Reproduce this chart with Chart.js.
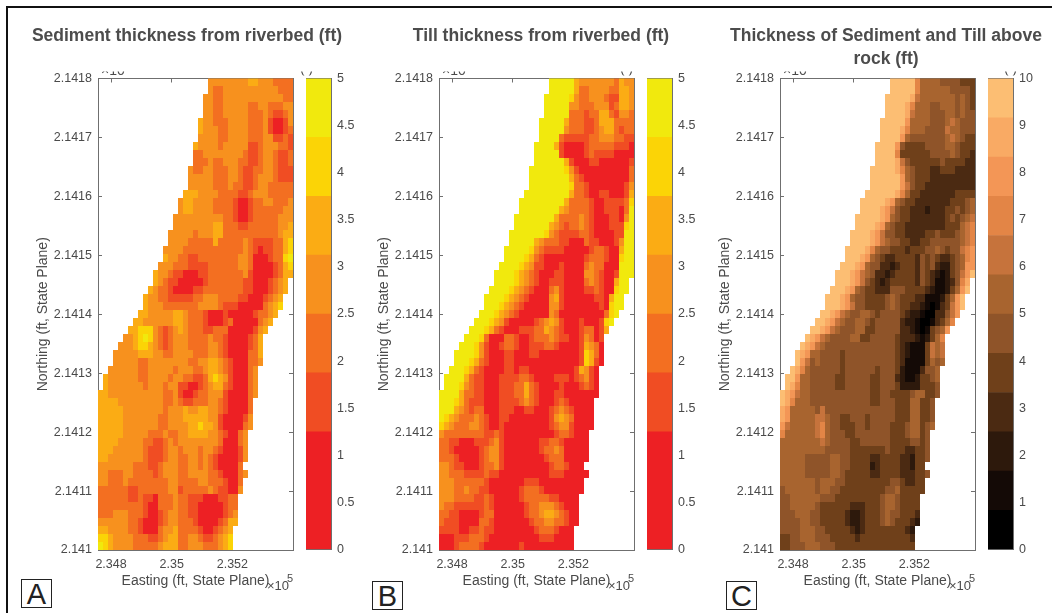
<!DOCTYPE html>
<html>
<head>
<meta charset="utf-8">
<title>Thickness maps</title>
<script src="https://cdn.jsdelivr.net/npm/chart.js@4"></script>
<style>
  body { margin: 0; background: #fff; width: 1052px; height: 613px; overflow: hidden; position: relative; font-family: "Liberation Sans", Arial, sans-serif; }
  canvas { position: absolute; filter: blur(0.45px); }
  .frame { position: absolute; background: #111; }
  .title { position: absolute; transform: translateX(-50%); text-align: center; white-space: nowrap; font-weight: bold; font-size: 17.5px; line-height: 23px; color: #4c4c4c; filter: blur(0.3px); }
  .tag { position: absolute; width: 29px; height: 27px; border: 1.5px solid #222; text-align: center; font-size: 29px; line-height: 28px; color: #222; }
</style>
</head>
<body>
<div class="frame" style="left:6px;top:6px;width:1046px;height:2px"></div>
<div class="frame" style="left:6px;top:6px;width:2px;height:607px"></div>
<div class="title" style="left:187px;top:24px">Sediment thickness from riverbed (ft)</div>
<div class="title" style="left:541px;top:24px">Till thickness from riverbed (ft)</div>
<div class="title" style="left:886px;top:24px">Thickness of Sediment and Till above<br>rock (ft)</div>
<div class="tag" style="left:21px;top:579px">A</div>
<div class="tag" style="left:372px;top:581px">B</div>
<div class="tag" style="left:726px;top:581px">C</div>

<script>
// grid of the surveyed reach, 39 columns by 59 rows, rows listed from north to south
const riverStart = [22,22,21,21,21,20,20,20,19,19,19,18,18,18,17,16,16,15,15,14,14,13,13,12,11,11,10,9,9,8,7,6,5,4,3,3,2,1,1,
  0,0,0,0,0,0,0,0,0,0,0,0,0,0,0,0,0,0,0,0];
const riverEnd = [39,39,39,39,39,39,39,39,39,39,39,39,39,39,39,39,39,39,39,39,39,39,39,39,39,38,38,37,37,36,35,34,33,33,33,33,32,32,32,
  32,31,31,31,31,30,30,30,30,29,30,29,29,28,28,28,28,27,27,27];

const eastingTicks = [2.348, 2.35, 2.352];
const northingTicks = [2.141, 2.1411, 2.1412, 2.1413, 2.1414, 2.1415, 2.1416, 2.1417, 2.1418];
const thicknessTicks = [0, 0.5, 1, 1.5, 2, 2.5, 3, 3.5, 4, 4.5, 5];
const totalTicks = [0, 1, 2, 3, 4, 5, 6, 7, 8, 9, 10];

const thicknessEdges = [0, 1.25, 1.875, 2.5, 3.125, 3.75, 4.375, 5];
const thicknessColours = ['#ed2024', '#f04d23', '#f36f21', '#f7911e', '#fbac14', '#fbd406', '#f1e90d'];
const totalEdges = [0, 0.833, 1.667, 2.5, 3.333, 4.167, 5, 5.833, 6.667, 7.5, 8.333, 9.167, 10];
const totalColours = ['#000000', '#140a06', '#2d190c', '#4b2a12', '#6f401a', '#8f5429', '#a8642f', '#c6733c', '#e38546', '#f39656', '#f9aa64', '#fcbe73'];

// level codes: 1-7 index thicknessColours, 0-b index totalColours
const sedimentRows = [
  '44444444 55 444 3333',
  '4 33 44444444444 333',
  '44 33 444444444444 33',
  '44 33 44444 33 44 333 44',
  '44 33 44444 333 4 3 22 3 4',
  '5 44 333 4444 333 4 2 11 2 4',
  '5 44 4 33 4444 333 4 2 11 2 3',
  '4 444 33 4444 333 44 22 3 2',
  '5 4444 3 44444 22 3 444 33 2',
  '33 44444444 3 22 3 44 3 22 3',
  '333 4 33 444 33 22 3 44 3 22 3',
  '4 33 44 33 3 44 3 22 33 44 3 222',
  '444 44 333 44 3 22 3 444 3 222',
  '4444 4 333 4 33 22 3 44 33 333',
  '5 55 44 44 33 33 22 3 444 33 333',
  '455 4444 3333 2112 33 44 3334',
  '455 4444 3333 2112 33 33 3344',
  '4 444 4444 44 33 2112 33 3334 44',
  '4 444 4444 55 33 3223 33 3334 45',
  '4 4 444 3444 55 33 3333 33 3334 55',
  '4 4 443 3333 53 33 3343 22 2233 56',
  '4 4 4 433 3333 33 33 3343 21 2233 56',
  '5 4 4 332 2333 33 33 3443 11 1233 67',
  '4 4 4 3 332 2223 33 33 3443 11 1123 56',
  '5 4 4 3 2 211 1223 33 33 3342 11 1123 55',
  '5 4 3 2 2 111 1123 33 33 3322 11 1234 5',
  '5 4 3 3 2 1 111 2233 33 33 3322 11 1234 5',
  '5 4 4 3 3 2 2 222 3344 43 33 3221 11 234 5',
  '5 4 4 4 3 3 3 333 3444 43 22 2111 11 345 6',
  '5544 4445 5433 3211 1211 1112 3345',
  '5544 4444 5543 3321 1123 1111 1345',
  '5566 6432 3454 3332 2333 1111 1245',
  '4456 7643 2344 4333 3433 2111 1235',
  '4445 6654 3234 4433 3344 3211 1123 5',
  '4444 4555 4433 4444 3334 4321 1113 35',
  '4444 4334 4444 4443 3445 5432 1113 34',
  '4444 4433 4444 4344 4334 5543 2111 34',
  '5444 4443 3444 4344 3322 3565 4211 134',
  '5444 4444 3444 3442 2112 3455 3211 134',
  '5544 4444 4444 4334 2112 3344 4211 1134',
  '5555 4444 4444 4334 3223 3344 3211 113',
  '5555 5444 4444 4344 4544 5544 3211 113',
  '5555 5444 4444 3344 4555 5544 2111 124',
  '5555 5444 4444 3344 4455 6554 2111 134',
  '5555 5444 4433 3433 4455 5544 3211 34',
  '5555 4444 4332 2343 4444 4444 3111 34',
  '5554 4444 4322 2344 3444 3443 2111 24',
  '5544 4444 4322 2344 3344 3432 1111 24',
  '4444 4443 3322 3444 3344 3432 1111 3',
  '4433 3443 3332 3444 3344 4433 2111 34',
  '4433 3433 3333 3344 3333 4433 3211 3',
  '3333 3322 3333 3344 2333 3343 2211 4',
  '3333 3322 3221 3334 3322 2111 2233',
  '3333 3333 3211 3334 3322 1111 1233',
  '3334 4433 3211 2344 3322 1111 1234',
  '4444 4433 2111 2344 3332 1111 2355',
  '5544 4433 2111 3445 3333 2112 345',
  '6654 4443 3322 3455 3344 3223 456',
  '7654 4443 3333 4555 3344 4333 456'
];

const tillRows = [
  '77777 5 4444 4443 544',
  '77777 5 3344 4433 554',
  '77777 6 4 3344 4322 554',
  '77777 4 4 3334 4423 554',
  '77777 3 3 3233 5532 443',
  '77777 5 3 3 3223 5553 333',
  '77777 4 3 3 3223 4553 233',
  '7777 3 222 2233 4443 322',
  '7777 5 2111 1233 3332 221',
  '77777 2111 1232 2221 111',
  '777777 5 21 1122 1111 112',
  '7777777 6 42 1111 1111 113',
  '77777777 5 3 2111 1111 113',
  '77777777 6 3 3211 1111 124',
  '777777777 5 3 3211 2211 125',
  '777777777 5 33 3321 1222 236',
  '77777777 5 433 3321 1222 137',
  '77777777 5 3333 4321 1122 147',
  '7777777 54 3233 4321 1122 267',
  '7777777 64 3 2222 3321 1112 277',
  '77777 54 333 2211 1322 1112 477',
  '77777 64 3222 2111 1123 3211 577',
  '7777 65 32111 1111 1233 3211 677',
  '7777 654 22111 2111 1343 3111 777',
  '7777 6543 21112 2111 1443 2112 777',
  '7777 6543 21122 2111 1343 2115 77',
  '7777 65432 11134 2111 1223 2116 77',
  '7777 654321 11145 2111 1112 2157 7',
  '777 6543211 11144 2111 1111 2167 7',
  '7776 5432 1111 1143 1111 1111 1367',
  '7776 5421 1111 2345 4211 1211 1267',
  '7776 5321 1122 2335 4321 1123 3125',
  '7776 3111 3321 1233 3432 2112 4312',
  '7776 4211 2332 1122 2332 1111 2543 1',
  '7777 6421 1122 1112 2111 1111 1265 31',
  '7776 5321 1122 1111 1111 1111 1265 21',
  '7776 5321 1112 2122 1111 1111 1254 21',
  '7777 5322 1112 2223 3211 1122 2123 421',
  '7776 4322 1112 2233 5321 1112 1112 321',
  '7777 5332 2111 2223 3532 1112 2111 1111',
  '7776 5322 2111 2222 3432 1112 3211 111',
  '7775 4323 3111 2221 1221 1123 4321 111',
  '7654 3334 3211 2211 1111 1124 5431 111',
  '6543 3344 3211 2111 1111 1123 4421 111',
  '4333 3333 3223 2111 1111 1112 3321 11',
  '3322 1112 2234 2111 1111 2233 2111 11',
  '3321 1111 2344 2111 1111 2334 3111 11',
  '3332 1111 2344 2111 1111 1233 3111 11',
  '4432 2111 2334 2111 1111 1123 3211 1',
  '4433 3222 2322 1111 1111 1122 2111 11',
  '4443 3333 3211 1111 1222 1111 1111 1',
  '4443 3433 2211 1111 2333 2111 1111 1',
  '4443 3332 2321 1111 2333 3322 1111',
  '4332 2222 2321 1111 1233 4443 2111',
  '3322 1111 2331 1111 1233 4554 3211',
  '3222 1111 3321 1111 1123 3443 3211',
  '2222 1122 3221 1111 1112 3332 111',
  '1112 2233 3211 1111 1111 2221 111',
  '1112 3333 2111 1111 2111 1111 111'
];

const totalRows = [
  'bbbbb 8 666 655 554 44',
  'bbbbb 8666 6665 5554',
  'bbbbb a766 6666 6565 4',
  'bbbb a866 6556 6656 54',
  'bbbb a766 6555 6656 55',
  'bbbbb 9666 6555 6765 55',
  'bbbb a866 6555 5766 555',
  'bbbb 9655 5555 5676 544',
  'bbbb 9544 4455 5566 5444',
  'bbbb 8444 4445 5556 5443',
  'bbbb a754 4444 4544 4433',
  'bbbb ba86 5444 3344 4333 3',
  'bbbb bb96 5444 3333 3333 3',
  'bbbb bb97 5443 3333 3333 3',
  'bbbb bba8 6443 3333 3344 44',
  'bbbb ba96 5443 3333 3344 456',
  'bbbb a975 4433 3233 3445 456',
  'bbbb ba96 5443 3333 3345 4567',
  'bbbb a965 4433 3333 3344 4678',
  'bbbb a975 5443 3334 4544 4567 8',
  'bbb ba97 6554 4334 4555 5556 78',
  'bbb ba86 5544 4344 4556 5455 789',
  'bbb a965 433 4444 3545 4334 5689',
  'bbb a965 5332 3444 3545 3224 5699',
  'bbb a976 5332 3444 4354 3212 4579 b',
  'bbb a975 4323 4444 4354 3112 358a',
  'bbb a965 4433 3555 4444 3211 2469 b',
  'bbb a965 5444 4565 4443 3111 2469 b',
  'bbb a975 5444 4565 4433 2101 3479 b',
  'bba9 7655 6654 5555 4322 1003 3579',
  'bba9 7655 6654 5555 5322 1001 3468',
  'bba9 7655 5664 4555 5533 2101 4569',
  'ba97 6555 5664 4555 5543 3321 2468',
  'ba97 6555 5555 5555 5554 3211 1476 7',
  'ba96 6555 5455 5555 5555 4321 1147 67',
  'b975 6555 5455 5555 5555 4311 1146 56',
  'ba86 5555 5545 5555 5455 5421 1135 56',
  'bb96 6555 5544 5555 5445 5532 1124 456',
  'ba86 6555 5544 5555 5445 5542 2224 445',
  'ba97 6655 5555 5555 5544 5544 4456 6445',
  'ba86 6655 5555 5555 5544 5554 4466 445',
  'a966 6665 7555 5555 5555 5554 4466 445',
  'a966 6667 7655 4455 5455 5554 4466 445',
  '9766 6667 8655 4445 5455 5544 4566 456',
  '8666 6667 8655 5445 5555 5544 4566 45',
  '6666 6666 7655 5544 5555 5544 4455 45',
  '6666 6666 6555 5544 4444 4544 4334 45',
  '6666 6555 5566 5544 4433 4444 3324 45',
  '6666 6555 5566 5544 4423 4444 3324 4',
  '6666 6555 5566 5444 4433 4444 3334 45',
  '6666 6665 6665 5444 4444 4455 4334 4',
  '5666 6665 6655 4444 4444 4556 4444 4',
  '5566 6666 5554 4444 4444 5665 4444',
  '5566 6665 4444 4433 3444 5665 4444',
  '5556 6655 4444 4322 3444 5655 4443',
  '5555 6655 4444 4322 3444 5654 4432',
  '5555 6665 5444 4432 3444 4444 432',
  '4455 6665 5544 4443 4444 4444 443',
  '4455 5666 5554 4444 4444 4444 444'
];

const axisGrey = '#6f6f6f';
const textGrey = '#4a4a4a';
const fontFamily = '"Liberation Sans", Arial, sans-serif';
const tickFont = { family: fontFamily, size: 12.5 };
const axisTitleFont = { family: fontFamily, size: 14 };
const colCount = 39, rowCount = 59;
const eastMin = 2.34757, eastMax = 2.354, northMin = 2.141, northMax = 2.1418;

function cellSprite(colour) {
  const c = document.createElement('canvas');
  c.width = 5;
  c.height = 8;
  const g = c.getContext('2d');
  g.fillStyle = colour;
  g.fillRect(0, 0, 5, 8);
  return c;
}

// one scatter dataset per colour level, each point a grid cell
function levelDatasets(rows, colours, firstCode) {
  const points = colours.map(() => []);
  rows.forEach((row, r) => {
    const codes = row.replace(/ /g, '');
    for (let c = riverStart[r]; c < riverEnd[r]; c++) {
      const ch = codes[c - riverStart[r]] || codes[codes.length - 1];
      points[parseInt(ch, 12) - firstCode].push({
        x: eastMin + (c + 0.5) * (eastMax - eastMin) / colCount,
        y: northMax - (r + 0.5) * (northMax - northMin) / rowCount
      });
    }
  });
  return points.map((data, i) => ({ data, pointStyle: cellSprite(colours[i]), pointRadius: 3 }));
}

function setTicks(values) {
  return scale => { scale.ticks = values.map(v => ({ value: v })); };
}

// axis exponent, plus the cut-off bit of text the source figure shows above each plot
const figureText = {
  id: 'figureText',
  afterDraw(chart, args, opts) {
    const g = chart.ctx, area = chart.chartArea;
    g.save();
    g.fillStyle = textGrey;
    g.textBaseline = 'middle';
    g.font = '13px ' + fontFamily;
    g.fillText('\u00d710', area.right - 26, area.bottom + 36);
    g.font = '11px ' + fontFamily;
    g.fillText('5', area.right - 6, area.bottom + 29);
    g.beginPath();
    g.rect(0, area.top - 7, chart.width, 4);
    g.clip();
    g.textBaseline = 'alphabetic';
    g.font = '14px ' + fontFamily;
    g.fillText('\u00d710', area.left + 3, area.top - 4);
    g.fillText('( )', area.left + opts.parenOffset, area.top - 6);
    g.restore();
  }
};

function addCanvas(left, top, width, height) {
  const c = document.createElement('canvas');
  c.width = width;
  c.height = height;
  c.style.left = left + 'px';
  c.style.top = top + 'px';
  document.body.appendChild(c);
  return c;
}

function drawMap(plotLeft, parenOffset, rows, colours, firstCode) {
  const canvas = addCanvas(plotLeft - 67, 61, 330, 533);
  new Chart(canvas, {
    type: 'scatter',
    data: { datasets: levelDatasets(rows, colours, firstCode) },
    plugins: [figureText],
    options: {
      responsive: false,
      animation: false,
      events: [],
      layout: { padding: { top: 10, right: 68 } },
      plugins: { legend: { display: false }, tooltip: { enabled: false }, figureText: { parenOffset } },
      scales: {
        x: {
          type: 'linear', position: 'bottom', min: eastMin, max: eastMax,
          afterBuildTicks: setTicks(eastingTicks),
          afterFit: s => { s.height = 44; },
          grid: { drawOnChartArea: false, color: axisGrey, tickLength: -4 },
          border: { color: axisGrey },
          ticks: { padding: 11, maxRotation: 0, autoSkip: false, font: tickFont, color: textGrey, callback: v => String(v) },
          title: { display: true, text: 'Easting (ft, State Plane)', font: axisTitleFont, color: textGrey }
        },
        y: {
          type: 'linear', position: 'left', min: northMin, max: northMax,
          afterBuildTicks: setTicks(northingTicks),
          afterFit: s => { s.width = 67; },
          grid: { drawOnChartArea: false, color: axisGrey, tickLength: -4 },
          border: { color: axisGrey },
          ticks: { padding: 10, autoSkip: false, font: tickFont, color: textGrey, callback: v => String(v) },
          title: { display: true, text: 'Northing (ft, State Plane)', font: axisTitleFont, color: textGrey }
        },
        xTop: {
          type: 'linear', axis: 'x', position: 'top', min: eastMin, max: eastMax,
          afterBuildTicks: setTicks(eastingTicks),
          afterFit: s => { s.height = 0; },
          grid: { drawOnChartArea: false, color: axisGrey, tickLength: -4 },
          border: { color: axisGrey },
          ticks: { display: false }
        },
        yRight: {
          type: 'linear', axis: 'y', position: 'right', min: northMin, max: northMax,
          afterBuildTicks: setTicks(northingTicks),
          afterFit: s => { s.width = 0; },
          grid: { drawOnChartArea: false, color: axisGrey, tickLength: -4 },
          border: { color: axisGrey },
          ticks: { display: false }
        }
      }
    }
  });
}

function drawColorbar(barLeft, edges, colours, tickValues) {
  const canvas = addCanvas(barLeft - 2, 61, 66, 506);
  const top = edges[edges.length - 1];
  new Chart(canvas, {
    type: 'bar',
    data: {
      labels: ['level'],
      datasets: colours.map((colour, i) => ({
        data: [[edges[i], edges[i + 1]]],
        backgroundColor: colour,
        barPercentage: 1,
        categoryPercentage: 1,
        grouped: false
      }))
    },
    options: {
      responsive: false,
      animation: false,
      events: [],
      layout: { padding: { top: 10, left: 2, bottom: 10 } },
      plugins: { legend: { display: false }, tooltip: { enabled: false } },
      scales: {
        x: {
          position: 'bottom',
          afterFit: s => { s.height = 0; },
          grid: { display: false },
          border: { color: axisGrey },
          ticks: { display: false }
        },
        xTop: {
          axis: 'x', type: 'category', position: 'top', z: 1,
          afterFit: s => { s.height = 0; },
          grid: { display: false },
          border: { color: axisGrey },
          ticks: { display: false }
        },
        y: {
          position: 'right', min: 0, max: top, z: 1,
          afterBuildTicks: setTicks(tickValues),
          afterFit: s => { s.width = 39; },
          grid: { drawOnChartArea: false, color: '#7a5a3a', tickLength: -4 },
          border: { color: axisGrey },
          ticks: { padding: 10, autoSkip: false, font: tickFont, color: textGrey, callback: v => String(v) }
        },
        yLeft: {
          axis: 'y', type: 'linear', position: 'left', min: 0, max: top, z: 1,
          afterFit: s => { s.width = 0; },
          grid: { display: false },
          border: { color: axisGrey },
          ticks: { display: false }
        }
      }
    }
  });
}

drawMap(98, 202, sedimentRows, thicknessColours, 1);
drawColorbar(306, thicknessEdges, thicknessColours, thicknessTicks);
drawMap(439, 181, tillRows, thicknessColours, 1);
drawColorbar(647, thicknessEdges, thicknessColours, thicknessTicks);
drawMap(780, 224, totalRows, totalColours, 0);
drawColorbar(988, totalEdges, totalColours, totalTicks);
</script>
</body>
</html>
